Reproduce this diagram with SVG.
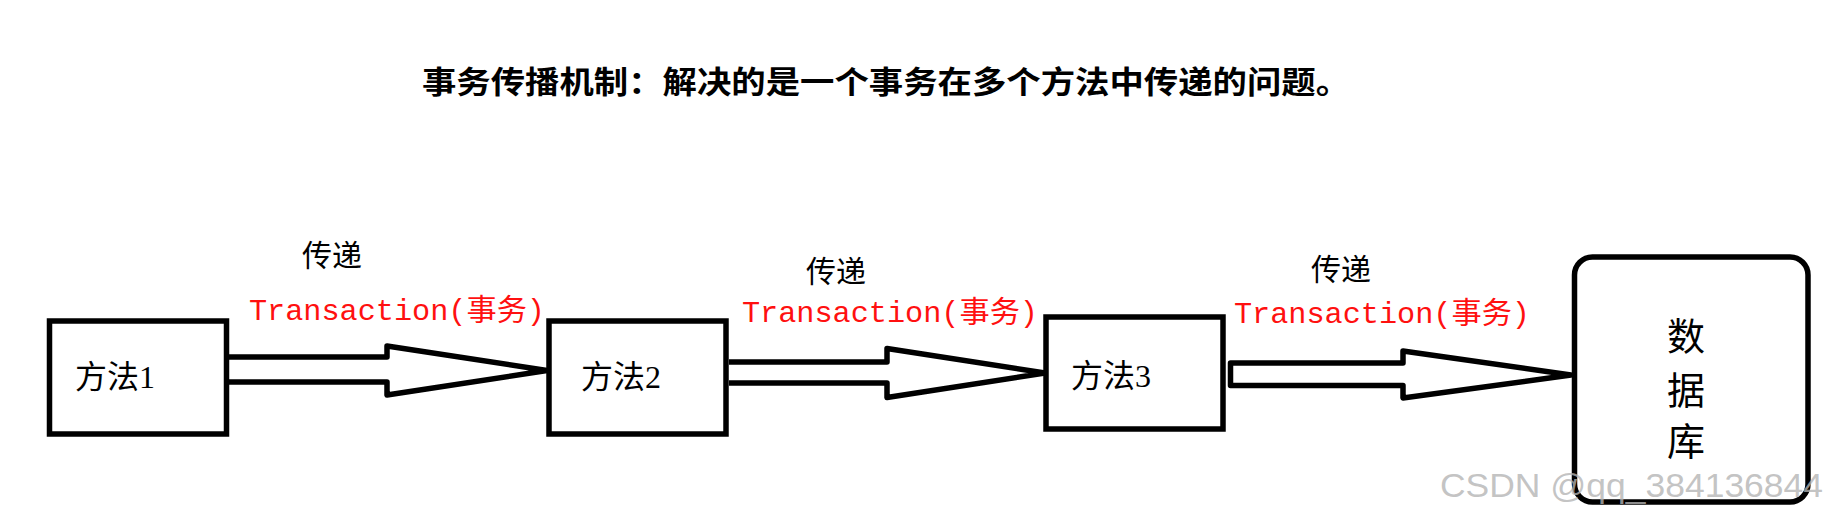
<svg xmlns="http://www.w3.org/2000/svg" width="1827" height="516" viewBox="0 0 1827 516">
<style>
.box{fill:#fff;stroke:#000;stroke-width:5.5}
.arrow{fill:none;stroke:#000;stroke-width:5.5;stroke-linejoin:round}
.node{font-family:"Liberation Serif","Noto Sans CJK SC",serif;font-size:32px;fill:#000}
.pass{font-family:"Noto Sans CJK SC",sans-serif;font-size:30px;fill:#000}
.tx{font-family:"Liberation Mono","Noto Sans CJK SC",monospace;font-size:30px;fill:#ff1010}
.title{font-family:"Noto Sans CJK SC",sans-serif;font-size:31px;font-weight:bold;fill:#000}
.db{font-family:"Noto Sans CJK SC",sans-serif;font-size:38px;fill:#000;text-anchor:middle}
.wm{font-family:"Liberation Sans",Arial,sans-serif;font-size:33.5px;fill:#b4b4b4;fill-opacity:0.8}
</style>
<rect width="1827" height="516" fill="#fff"/>
<text class="title" x="422" y="93" textLength="928" lengthAdjust="spacingAndGlyphs">事务传播机制：解决的是一个事务在多个方法中传递的问题。</text>

<g id="connectors">
  <path class="arrow" d="M229,357 H387 V346 L547,370.5 L387,395 V382 H229"/>
  <path class="arrow" d="M729,362 H887 V348.5 L1045,373 L887,397.5 V383 H729"/>
  <path class="arrow" d="M1230.5,363 H1403 V351 L1571,375 L1403,398 V385.5 H1230.5 Z"/>
  <text class="pass" x="302" y="266">传递</text>
  <text class="tx" x="249" y="320" textLength="296" lengthAdjust="spacingAndGlyphs">Transaction(事务)</text>
  <text class="pass" x="806" y="282">传递</text>
  <text class="tx" x="742" y="321.5" textLength="296" lengthAdjust="spacingAndGlyphs">Transaction(事务)</text>
  <text class="pass" x="1311" y="280">传递</text>
  <text class="tx" x="1234" y="323" textLength="296" lengthAdjust="spacingAndGlyphs">Transaction(事务)</text>
</g>

<g id="method1">
  <rect class="box" x="49.5" y="321" width="177" height="113"/>
  <text class="node" x="75" y="388">方法1</text>
</g>
<g id="method2">
  <rect class="box" x="549" y="321" width="177" height="113"/>
  <text class="node" x="581" y="388">方法2</text>
</g>
<g id="method3">
  <rect class="box" x="1046" y="317" width="177" height="112"/>
  <text class="node" x="1071" y="387">方法3</text>
</g>
<g id="database">
  <rect class="box" x="1574.5" y="257" width="233.5" height="245" rx="18" ry="18"/>
  <text class="db" x="1686" y="350">数</text>
  <text class="db" x="1686" y="404">据</text>
  <text class="db" x="1686" y="455">库</text>
</g>

<text class="wm" x="1440" y="497" textLength="383" lengthAdjust="spacingAndGlyphs">CSDN @qq_384136844</text>
</svg>
